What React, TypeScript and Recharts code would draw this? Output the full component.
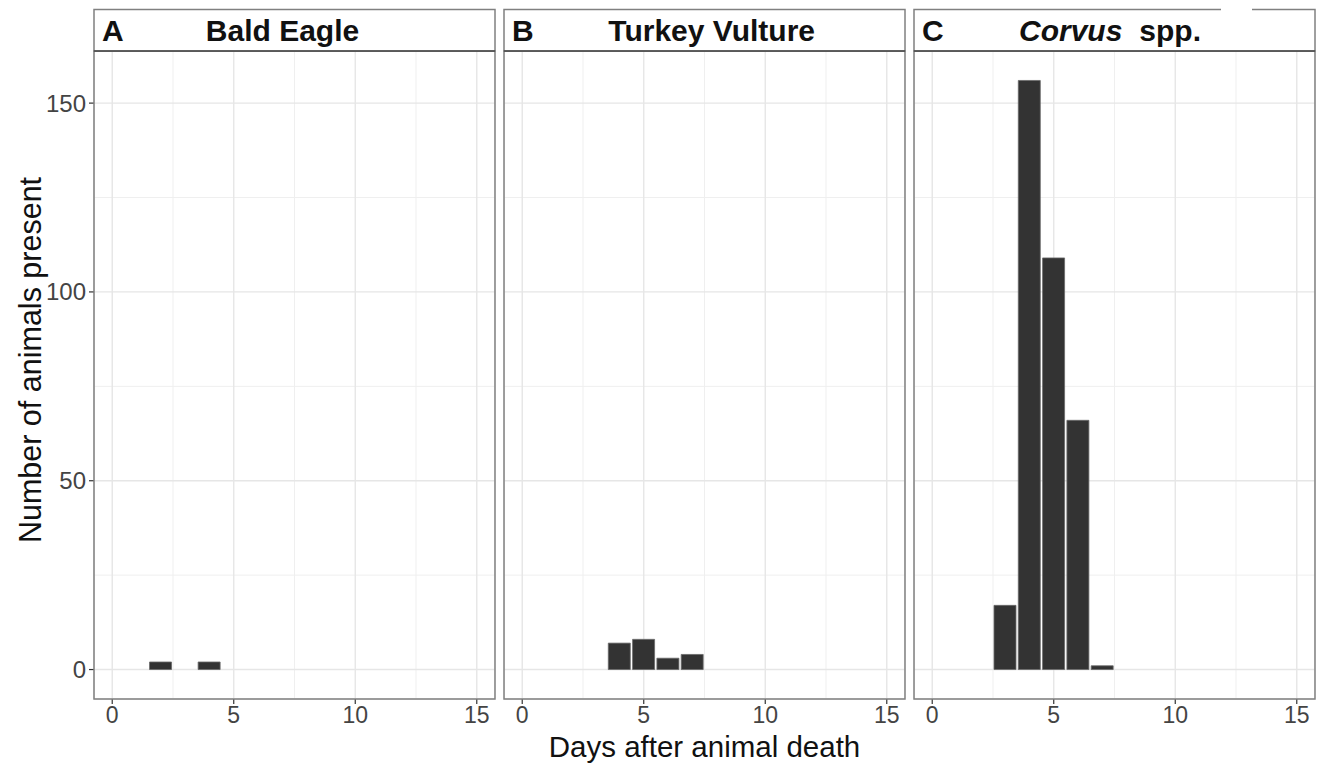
import React from 'react';
import { BarChart, Bar, XAxis, YAxis, CartesianGrid } from 'recharts';

// ---- data ----
const dayTicks = [0, 5, 10, 15];
const dayMinor = [2.5, 7.5, 12.5];
const countTicks = [0, 50, 100, 150];
const countMinor = [25, 75, 125];
const dayDomain = [-0.75, 15.75];
const countDomain = [-7.8, 163.8];

const baldEagleDays = [2, 4];
const baldEagleCounts = [2, 2];
const turkeyVultureDays = [4, 5, 6, 7];
const turkeyVultureCounts = [7, 8, 3, 4];
const corvusDays = [3, 4, 5, 6, 7];
const corvusCounts = [17, 156, 109, 66, 1];

const panelLetters = ['A', 'B', 'C'];
const panelTitles = ['Bald Eagle', 'Turkey Vulture', 'Corvus'];

const xTitle = 'Days after animal death';
const yTitle = 'Number of animals present';

// ---- layout ----
const W = 1324;
const H = 763;
const PLOT_TOP = 51;
const PLOT_BOTTOM = 699;
const PANEL_W = 401;
const PANEL_LEFTS = [94, 504, 914];
const TITLE_CENTERS = [282.5, 711.7, 1110];
const STRIP_TOP = 9.5;
const FONT = '"Liberation Sans", Arial, Helvetica, sans-serif';

const toRows = (days: number[], counts: number[]) =>
  days.map((d, i) => ({ day: d, count: counts[i] }));

const panelData = [
  toRows(baldEagleDays, baldEagleCounts),
  toRows(turkeyVultureDays, turkeyVultureCounts),
  toRows(corvusDays, corvusCounts),
];

function Panel({ idx }: { idx: number }) {
  const showY = idx === 0;
  const left = showY ? 0 : PANEL_LEFTS[idx];
  const width = showY ? PANEL_LEFTS[0] + PANEL_W : PANEL_W;
  return (
    <div style={{ position: 'absolute', left, top: 0 }}>
      <BarChart
        width={width}
        height={H}
        data={panelData[idx]}
        margin={{ top: PLOT_TOP, right: 0, left: 0, bottom: 0 }}
        barSize={22}
      >
        <CartesianGrid
          stroke="#efefef"
          strokeWidth={1}
          horizontalValues={countMinor}
          verticalValues={dayMinor}
        />
        <CartesianGrid stroke="#e6e6e6" strokeWidth={1.4} />
        <XAxis
          type="number"
          dataKey="day"
          domain={dayDomain}
          allowDataOverflow
          ticks={dayTicks}
          interval={0}
          height={H - PLOT_BOTTOM}
          axisLine={false}
          tickLine={{ stroke: '#333333', strokeWidth: 1.2 }}
          tickSize={5}
          tickMargin={3}
          tick={{ fill: '#444444', fontSize: 23, fontFamily: FONT }}
        />
        <YAxis
          type="number"
          domain={countDomain}
          allowDataOverflow
          ticks={countTicks}
          interval={0}
          hide={!showY}
          width={PANEL_LEFTS[0]}
          axisLine={false}
          tickLine={{ stroke: '#333333', strokeWidth: 1.2 }}
          tickSize={5}
          tickMargin={3}
          tick={{ fill: '#444444', fontSize: 24, fontFamily: FONT }}
        />
        <Bar
          dataKey="count"
          fill="#333333"
          stroke="#6a6a6a"
          strokeWidth={0.8}
          isAnimationActive={false}
        />
      </BarChart>
    </div>
  );
}

export default function App() {
  return (
    <div
      style={{
        position: 'absolute',
        left: 0,
        top: 0,
        width: W,
        height: H,
        background: '#ffffff',
        overflow: 'hidden',
        fontFamily: FONT,
      }}
    >
      {[0, 1, 2].map((i) => (
        <Panel key={i} idx={i} />
      ))}
      <svg
        width={W}
        height={H}
        style={{ position: 'absolute', left: 0, top: 0, pointerEvents: 'none' }}
      >
        {PANEL_LEFTS.map((l, i) => (
          <g key={i}>
            <rect
              x={l}
              y={PLOT_TOP}
              width={PANEL_W}
              height={PLOT_BOTTOM - PLOT_TOP}
              fill="none"
              stroke="#808080"
              strokeWidth={1.5}
            />
            <rect
              x={l}
              y={STRIP_TOP}
              width={PANEL_W}
              height={PLOT_TOP - STRIP_TOP}
              fill="#ffffff"
              stroke="#808080"
              strokeWidth={1.5}
            />
            <line
              x1={l}
              x2={l + PANEL_W}
              y1={PLOT_TOP}
              y2={PLOT_TOP}
              stroke="#4a4a4a"
              strokeWidth={1.5}
            />
            <text
              x={l + 8}
              y={41}
              fontSize={30}
              fontWeight="bold"
              fontFamily={FONT}
              fill="#111"
            >
              {panelLetters[i]}
            </text>
            <text
              x={TITLE_CENTERS[i]}
              y={41}
              fontSize={30}
              fontWeight="bold"
              fontFamily={FONT}
              fill="#111"
              textAnchor="middle"
            >
              {i === 2 ? (
                <>
                  <tspan fontStyle="italic">{panelTitles[i]}</tspan>
                  <tspan dx={17}>spp.</tspan>
                </>
              ) : (
                panelTitles[i]
              )}
            </text>
          </g>
        ))}
        <rect x={1221} y={7} width={31} height={5} fill="#ffffff" />
        <text
          x={704.5}
          y={757}
          fontSize={29.5}
          fontFamily={FONT}
          fill="#111"
          textAnchor="middle"
        >
          {xTitle}
        </text>
        <text
          transform="translate(41,360) rotate(-90)"
          fontSize={30.5}
          fontFamily={FONT}
          fill="#111"
          textAnchor="middle"
        >
          {yTitle}
        </text>
      </svg>
    </div>
  );
}
